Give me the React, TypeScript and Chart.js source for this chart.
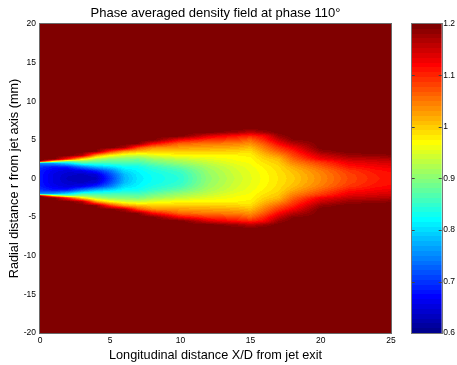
import React, { useEffect, useRef } from "react";
import { Chart, registerables } from "chart.js";

Chart.register(...registerables);

const TITLE = "Phase averaged density field at phase 110°";
const X_TITLE = "Longitudinal distance X/D from jet exit";
const Y_TITLE = "Radial distance r from jet axis (mm)";
const FONT = "'Liberation Sans', Arial, Helvetica, sans-serif";

const xTicks = [0, 5, 10, 15, 20, 25];
const yTicks = [-20, -15, -10, -5, 0, 5, 10, 15, 20];
const cbTicks = [0.6, 0.7, 0.8, 0.9, 1, 1.1, 1.2];
const cbTickLabels = ["0.6", "0.7", "0.8", "0.9", "1", "1.1", "1.2"];
const densityMin = 0.6;
const densityMax = 1.2;
const ambientDensity = 1.2;

// axial stations (X/D) and radial stations |r| (mm) at which density was read
const xStations = [0, 1, 2, 3, 4, 5, 6, 7, 8, 10, 12, 14, 15, 16, 17, 18, 20, 22, 24, 25];
const rStations = [0, 0.5, 1, 1.5, 2, 2.25, 2.5, 3, 3.5, 4, 4.5, 5, 5.5, 6, 6.5, 7, 8];

// density profiles (one per axial station, values at rStations)
const profileX0 = [0.68, 0.68, 0.685, 0.7, 0.76, 1.2, 1.2, 1.2, 1.2, 1.2, 1.2, 1.2, 1.2, 1.2, 1.2, 1.2, 1.2];
const profileX1 = [0.655, 0.655, 0.66, 0.68, 0.77, 1.0, 1.2, 1.2, 1.2, 1.2, 1.2, 1.2, 1.2, 1.2, 1.2, 1.2, 1.2];
const profileX2 = [0.635, 0.64, 0.65, 0.69, 0.81, 0.9, 1.1, 1.2, 1.2, 1.2, 1.2, 1.2, 1.2, 1.2, 1.2, 1.2, 1.2];
const profileX3 = [0.63, 0.635, 0.66, 0.74, 0.86, 0.91, 0.98, 1.17, 1.2, 1.2, 1.2, 1.2, 1.2, 1.2, 1.2, 1.2, 1.2];
const profileX4 = [0.635, 0.645, 0.69, 0.78, 0.86, 0.89, 0.92, 1.03, 1.19, 1.2, 1.2, 1.2, 1.2, 1.2, 1.2, 1.2, 1.2];
const profileX5 = [0.7, 0.71, 0.74, 0.8, 0.86, 0.88, 0.9, 0.975, 1.09, 1.2, 1.2, 1.2, 1.2, 1.2, 1.2, 1.2, 1.2];
const profileX6 = [0.775, 0.78, 0.8, 0.825, 0.86, 0.88, 0.895, 0.95, 1.03, 1.17, 1.2, 1.2, 1.2, 1.2, 1.2, 1.2, 1.2];
const profileX7 = [0.81, 0.812, 0.818, 0.83, 0.86, 0.875, 0.89, 0.94, 1.01, 1.08, 1.19, 1.2, 1.2, 1.2, 1.2, 1.2, 1.2];
const profileX8 = [0.825, 0.827, 0.835, 0.85, 0.88, 0.895, 0.91, 0.955, 1.0, 1.04, 1.12, 1.2, 1.2, 1.2, 1.2, 1.2, 1.2];
const profileX10 = [0.845, 0.848, 0.858, 0.88, 0.91, 0.922, 0.935, 0.975, 1.0, 1.03, 1.06, 1.12, 1.2, 1.2, 1.2, 1.2, 1.2];
const profileX12 = [0.905, 0.907, 0.912, 0.92, 0.935, 0.945, 0.955, 0.975, 1.0, 1.025, 1.05, 1.09, 1.14, 1.2, 1.2, 1.2, 1.2];
const profileX14 = [0.94, 0.942, 0.945, 0.95, 0.96, 0.965, 0.968, 0.975, 0.995, 1.02, 1.045, 1.08, 1.11, 1.18, 1.2, 1.2, 1.2];
const profileX15 = [0.955, 0.956, 0.958, 0.962, 0.967, 0.97, 0.972, 0.978, 0.99, 1.01, 1.035, 1.06, 1.1, 1.16, 1.2, 1.2, 1.2];
const profileX16 = [0.97, 0.971, 0.973, 0.977, 0.985, 0.99, 0.995, 1.01, 1.03, 1.05, 1.07, 1.1, 1.12, 1.18, 1.2, 1.2, 1.2];
const profileX17 = [0.985, 0.986, 0.988, 0.992, 1.0, 1.005, 1.01, 1.035, 1.065, 1.09, 1.12, 1.15, 1.18, 1.2, 1.2, 1.2, 1.2];
const profileX18 = [1.0, 1.002, 1.008, 1.02, 1.04, 1.05, 1.06, 1.08, 1.1, 1.125, 1.16, 1.19, 1.2, 1.2, 1.2, 1.2, 1.2];
const profileX20 = [1.04, 1.042, 1.048, 1.065, 1.085, 1.1, 1.125, 1.15, 1.18, 1.2, 1.2, 1.2, 1.2, 1.2, 1.2, 1.2, 1.2];
const profileX22 = [1.08, 1.082, 1.09, 1.11, 1.13, 1.14, 1.155, 1.18, 1.2, 1.2, 1.2, 1.2, 1.2, 1.2, 1.2, 1.2, 1.2];
const profileX24 = [1.105, 1.107, 1.113, 1.125, 1.14, 1.15, 1.16, 1.185, 1.2, 1.2, 1.2, 1.2, 1.2, 1.2, 1.2, 1.2, 1.2];
const profileX25 = [1.11, 1.112, 1.118, 1.13, 1.145, 1.155, 1.165, 1.19, 1.2, 1.2, 1.2, 1.2, 1.2, 1.2, 1.2, 1.2, 1.2];

const profiles = [
  profileX0, profileX1, profileX2, profileX3, profileX4, profileX5, profileX6, profileX7,
  profileX8, profileX10, profileX12, profileX14, profileX15, profileX16, profileX17,
  profileX18, profileX20, profileX22, profileX24, profileX25,
];

// MATLAB "jet" colormap with 64 levels
const JET: number[][] = [];
for (let k = 1; k <= 64; k++) {
  let r = 0, g = 0, b = 0;
  if (k <= 8) { b = (k + 8) / 16; }
  else if (k <= 24) { g = (k - 8) / 16; b = 1; }
  else if (k <= 40) { r = (k - 24) / 16; g = 1; b = (40 - k) / 16; }
  else if (k <= 56) { r = 1; g = (56 - k) / 16; }
  else { r = (72 - k) / 16; }
  JET.push([Math.round(r * 255), Math.round(g * 255), Math.round(b * 255)]);
}

function colorFor(d: number) {
  let k = Math.floor(((d - densityMin) / (densityMax - densityMin)) * 64);
  if (k < 0) k = 0;
  if (k > 63) k = 63;
  return JET[k];
}

function seg(arr: number[], v: number): [number, number, number] {
  const n = arr.length;
  if (v <= arr[0]) return [0, 0, 0];
  if (v >= arr[n - 1]) return [n - 1, n - 1, 0];
  let i = 0;
  while (arr[i + 1] < v) i++;
  return [i, i + 1, (v - arr[i]) / (arr[i + 1] - arr[i])];
}

function densityAt(x: number, r: number) {
  if (r > rStations[rStations.length - 1]) return ambientDensity;
  const [i0, i1, tx] = seg(xStations, x);
  const [j0, j1, tr] = seg(rStations, r);
  const a = profiles[i0][j0] * (1 - tr) + profiles[i0][j1] * tr;
  const b = profiles[i1][j0] * (1 - tr) + profiles[i1][j1] * tr;
  return a * (1 - tx) + b * tx;
}

const heatmapPlugin = {
  id: "heatmap",
  beforeDatasetsDraw(chart: any) {
    const { ctx, chartArea: a, scales } = chart;
    const w = Math.round(a.right - a.left);
    const h = Math.round(a.bottom - a.top);
    const off = document.createElement("canvas");
    off.width = w;
    off.height = h;
    const octx = off.getContext("2d")!;
    const img = octx.createImageData(w, h);
    for (let py = 0; py < h; py++) {
      const rv = Math.abs(scales.y.getValueForPixel(a.top + py + 0.5));
      for (let px = 0; px < w; px++) {
        const xv = scales.x.getValueForPixel(a.left + px + 0.5);
        const c = colorFor(densityAt(xv, rv));
        const o = (py * w + px) * 4;
        img.data[o] = c[0];
        img.data[o + 1] = c[1];
        img.data[o + 2] = c[2];
        img.data[o + 3] = 255;
      }
    }
    octx.putImageData(img, 0, 0);
    ctx.save();
    ctx.drawImage(off, a.left, a.top);
    ctx.restore();
  },
  afterDatasetsDraw(chart: any) {
    const { ctx, chartArea: a } = chart;
    ctx.save();
    ctx.strokeStyle = "#6a6a6a";
    ctx.lineWidth = 1;
    ctx.strokeRect(Math.round(a.left) - 0.5, Math.round(a.top) - 0.5, Math.round(a.right - a.left) + 1, Math.round(a.bottom - a.top) + 1);
    ctx.restore();
  },
};

const colorbarPlugin = {
  id: "colorbar",
  beforeDatasetsDraw(chart: any) {
    const { ctx, chartArea: a, scales } = chart;
    const y = scales.y;
    const step = (densityMax - densityMin) / 64;
    ctx.save();
    for (let k = 0; k < 64; k++) {
      const lo = densityMin + k * step;
      const hi = lo + step;
      const yTop = Math.round(y.getPixelForValue(hi));
      const yBot = Math.round(y.getPixelForValue(lo));
      const c = JET[k];
      ctx.fillStyle = `rgb(${c[0]},${c[1]},${c[2]})`;
      ctx.fillRect(a.left, yTop, a.right - a.left, yBot - yTop);
    }
    ctx.strokeStyle = "#444";
    ctx.lineWidth = 1;
    for (const t of cbTicks) {
      if (t === densityMin || t === densityMax) continue;
      const py = Math.round(y.getPixelForValue(t)) + 0.5;
      ctx.beginPath();
      ctx.moveTo(a.left, py);
      ctx.lineTo(a.left + 3, py);
      ctx.moveTo(a.right, py);
      ctx.lineTo(a.right - 3, py);
      ctx.stroke();
    }
    ctx.strokeStyle = "#777";
    ctx.strokeRect(Math.round(a.left) - 0.5, Math.round(a.top) - 0.5, Math.round(a.right - a.left) + 1, Math.round(a.bottom - a.top) + 1);
    ctx.restore();
  },
};

export default function App() {
  const mainRef = useRef<HTMLCanvasElement>(null);
  const cbRef = useRef<HTMLCanvasElement>(null);

  useEffect(() => {
    const tickFont = { family: FONT, size: 8.5 };
    const titleFont = { family: FONT, size: 12.7 };
    const main = new Chart(mainRef.current!, {
      type: "scatter",
      data: { datasets: [{ data: [] }] },
      plugins: [heatmapPlugin],
      options: {
        animation: false,
        responsive: false,
        devicePixelRatio: 1,
        layout: { padding: { left: 0, right: 9, top: 0, bottom: 0 } },
        plugins: {
          legend: { display: false },
          tooltip: { enabled: false },
          title: {
            display: true,
            text: TITLE,
            fullSize: false,
            color: "#000",
            font: { family: FONT, size: 13, weight: "normal" },
            padding: { top: 5.2, bottom: 3.2 },
          },
        },
        scales: {
          x: {
            type: "linear",
            min: 0,
            max: 25,
            afterBuildTicks: (s: any) => { s.ticks = xTicks.map((v) => ({ value: v })); },
            afterFit: (s: any) => { s.height = 32; },
            ticks: { font: tickFont, color: "#000", padding: 3, maxRotation: 0, callback: (v: any) => String(v) },
            grid: { display: false, drawTicks: false },
            border: { display: false },
            title: { display: true, text: X_TITLE, color: "#000", font: titleFont, padding: { top: 0, bottom: 1.5 } },
          },
          y: {
            type: "linear",
            min: -20,
            max: 20,
            afterBuildTicks: (s: any) => { s.ticks = yTicks.map((v) => ({ value: v })); },
            afterFit: (s: any) => { s.width = 40; },
            ticks: { font: tickFont, color: "#000", padding: 4, callback: (v: any) => String(v) },
            grid: { display: false, drawTicks: false },
            border: { display: false },
            title: { display: true, text: Y_TITLE, color: "#000", font: titleFont, padding: { top: 6.4, bottom: 0 } },
          },
        },
      },
    } as any);

    const cb = new Chart(cbRef.current!, {
      type: "scatter",
      data: { datasets: [{ data: [] }] },
      plugins: [colorbarPlugin],
      options: {
        animation: false,
        responsive: false,
        devicePixelRatio: 1,
        layout: { padding: { left: 6.7, right: 0, top: 24, bottom: 32 } },
        plugins: { legend: { display: false }, tooltip: { enabled: false }, title: { display: false } },
        scales: {
          x: { type: "linear", min: 0, max: 1, display: false },
          y: {
            type: "linear",
            position: "right",
            min: densityMin,
            max: densityMax,
            afterBuildTicks: (s: any) => { s.ticks = cbTicks.map((v) => ({ value: v })); },
            afterFit: (s: any) => { s.width = 15.3; },
            ticks: {
              font: tickFont,
              color: "#000",
              padding: 1.5,
              callback: (_v: any, i: number) => cbTickLabels[i],
            },
            grid: { display: false, drawTicks: false },
            border: { display: false },
          },
        },
      },
    } as any);

    return () => {
      main.destroy();
      cb.destroy();
    };
  }, []);

  return (
    <div style={{ position: "fixed", left: 0, top: 0, width: 457, height: 365, background: "#fff" }}>
      <canvas ref={mainRef} width={400} height={365} style={{ position: "absolute", left: 0, top: 0 }} />
      <canvas ref={cbRef} width={52} height={365} style={{ position: "absolute", left: 405, top: 0 }} />
    </div>
  );
}
